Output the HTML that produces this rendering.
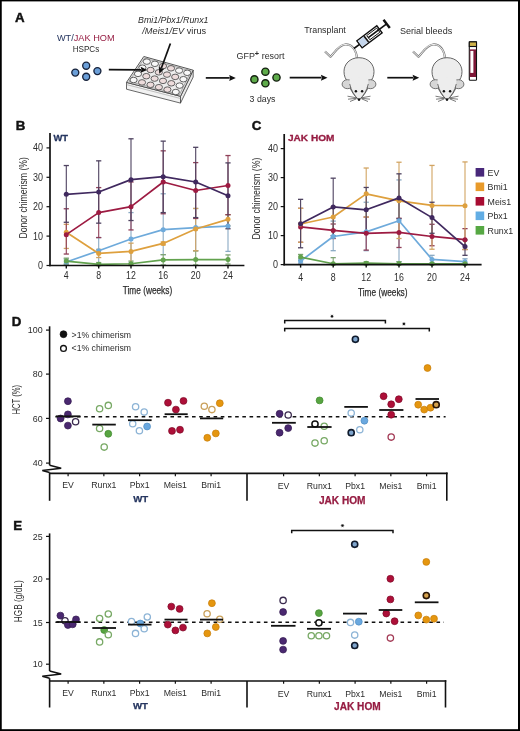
<!DOCTYPE html>
<html><head><meta charset="utf-8"><title>Figure</title>
<style>
html,body{margin:0;padding:0;background:#fff;}
body{width:520px;height:731px;overflow:hidden;}
svg{display:block;font-family:"Liberation Sans", sans-serif;will-change:transform;}
</style></head><body>
<svg width="520" height="731" viewBox="0 0 520 731">
<rect x="0" y="0" width="520" height="731" fill="#fff"/>
<rect x="0" y="0" width="520" height="1.4" fill="#000"/>
<rect x="0" y="0" width="1.75" height="731" fill="#000"/>
<rect x="518.0" y="0" width="2.0" height="731" fill="#000"/>
<rect x="0" y="729.2" width="520" height="1.8" fill="#000"/>
<text x="15.10" y="21.90" font-size="13.3" fill="#111" text-anchor="start" font-weight="bold" font-style="normal" stroke="#111" stroke-width="0.45">A</text>
<text x="15.70" y="130.20" font-size="13.3" fill="#111" text-anchor="start" font-weight="bold" font-style="normal" stroke="#111" stroke-width="0.45">B</text>
<text x="251.70" y="130.20" font-size="13.3" fill="#111" text-anchor="start" font-weight="bold" font-style="normal" stroke="#111" stroke-width="0.45">C</text>
<text x="11.70" y="326.00" font-size="13.3" fill="#111" text-anchor="start" font-weight="bold" font-style="normal" stroke="#111" stroke-width="0.45">D</text>
<text x="13.20" y="529.70" font-size="13.3" fill="#111" text-anchor="start" font-weight="bold" font-style="normal" stroke="#111" stroke-width="0.45">E</text>
<text x="56.9" y="40.8" font-size="9.5" textLength="57.7" lengthAdjust="spacingAndGlyphs"><tspan fill="#25355f">WT/</tspan><tspan fill="#961c42">JAK HOM</tspan></text>
<text x="86.00" y="52.00" font-size="9.5" fill="#2c2c2c" text-anchor="middle" font-weight="normal" font-style="normal" textLength="26.5" lengthAdjust="spacingAndGlyphs" >HSPCs</text>
<circle cx="75.3" cy="72.6" r="3.5" fill="#6b9fd8" stroke="#17223a" stroke-width="1.35"/>
<circle cx="86.2" cy="65.7" r="3.5" fill="#6b9fd8" stroke="#17223a" stroke-width="1.35"/>
<circle cx="97.4" cy="71.1" r="3.5" fill="#6b9fd8" stroke="#17223a" stroke-width="1.35"/>
<circle cx="86.2" cy="76.7" r="3.5" fill="#6b9fd8" stroke="#17223a" stroke-width="1.35"/>
<text x="138.1" y="23.2" font-size="9" fill="#2c2c2c" font-style="italic" textLength="70.4" lengthAdjust="spacingAndGlyphs">Bmi1/Pbx1/Runx1</text>
<text x="142.3" y="33.6" font-size="9" fill="#2c2c2c" textLength="63.9" lengthAdjust="spacingAndGlyphs"><tspan font-style="italic">/Meis1/EV</tspan> virus</text>
<polygon points="126.5,82.4 180.5,96.3 180.5,103.1 126.5,89.2" fill="#f2f2f2" stroke="#444" stroke-width="0.8" stroke-linejoin="round"/>
<polygon points="193.2,70.2 180.5,96.3 180.5,103.1 193.2,77.0" fill="#e8e8e8" stroke="#444" stroke-width="0.8" stroke-linejoin="round"/>
<polygon points="143.8,56.5 193.2,70.2 180.5,96.3 126.5,82.4" fill="#ececec" stroke="#444" stroke-width="0.9" stroke-linejoin="round"/>
<line x1="126.5" y1="84.6" x2="180.5" y2="98.5" stroke="#888" stroke-width="0.5"/>
<polygon points="144.4,58.2 191.1,71.1 179.5,94.6 129.0,81.5" fill="none" stroke="#777" stroke-width="0.6"/>
<ellipse cx="146.8" cy="61.6" rx="3.6" ry="2.75" fill="#f8f8f8" stroke="#4a4a4a" stroke-width="0.85"/>
<ellipse cx="154.9" cy="63.8" rx="3.6" ry="2.75" fill="#f8f8f8" stroke="#4a4a4a" stroke-width="0.85"/>
<ellipse cx="163.0" cy="66.1" rx="3.6" ry="2.75" fill="#eddcdc" stroke="#4a4a4a" stroke-width="0.85"/>
<ellipse cx="171.0" cy="68.3" rx="3.6" ry="2.75" fill="#eddcdc" stroke="#4a4a4a" stroke-width="0.85"/>
<ellipse cx="179.1" cy="70.6" rx="3.6" ry="2.75" fill="#f8f8f8" stroke="#4a4a4a" stroke-width="0.85"/>
<ellipse cx="187.2" cy="72.8" rx="3.6" ry="2.75" fill="#f8f8f8" stroke="#4a4a4a" stroke-width="0.85"/>
<ellipse cx="142.4" cy="67.7" rx="3.6" ry="2.75" fill="#f8f8f8" stroke="#4a4a4a" stroke-width="0.85"/>
<ellipse cx="150.6" cy="70.0" rx="3.6" ry="2.75" fill="#eddcdc" stroke="#4a4a4a" stroke-width="0.85"/>
<ellipse cx="158.8" cy="72.3" rx="3.6" ry="2.75" fill="#eddcdc" stroke="#4a4a4a" stroke-width="0.85"/>
<ellipse cx="167.0" cy="74.6" rx="3.6" ry="2.75" fill="#eddcdc" stroke="#4a4a4a" stroke-width="0.85"/>
<ellipse cx="175.2" cy="76.9" rx="3.6" ry="2.75" fill="#eddcdc" stroke="#4a4a4a" stroke-width="0.85"/>
<ellipse cx="183.4" cy="79.2" rx="3.6" ry="2.75" fill="#f8f8f8" stroke="#4a4a4a" stroke-width="0.85"/>
<ellipse cx="138.0" cy="73.9" rx="3.6" ry="2.75" fill="#f8f8f8" stroke="#4a4a4a" stroke-width="0.85"/>
<ellipse cx="146.3" cy="76.2" rx="3.6" ry="2.75" fill="#eddcdc" stroke="#4a4a4a" stroke-width="0.85"/>
<ellipse cx="154.6" cy="78.6" rx="3.6" ry="2.75" fill="#eddcdc" stroke="#4a4a4a" stroke-width="0.85"/>
<ellipse cx="163.0" cy="80.9" rx="3.6" ry="2.75" fill="#eddcdc" stroke="#4a4a4a" stroke-width="0.85"/>
<ellipse cx="171.3" cy="83.3" rx="3.6" ry="2.75" fill="#eddcdc" stroke="#4a4a4a" stroke-width="0.85"/>
<ellipse cx="179.6" cy="85.6" rx="3.6" ry="2.75" fill="#f8f8f8" stroke="#4a4a4a" stroke-width="0.85"/>
<ellipse cx="133.6" cy="80.0" rx="3.6" ry="2.75" fill="#f8f8f8" stroke="#4a4a4a" stroke-width="0.85"/>
<ellipse cx="142.0" cy="82.4" rx="3.6" ry="2.75" fill="#eddcdc" stroke="#4a4a4a" stroke-width="0.85"/>
<ellipse cx="150.5" cy="84.8" rx="3.6" ry="2.75" fill="#eddcdc" stroke="#4a4a4a" stroke-width="0.85"/>
<ellipse cx="158.9" cy="87.2" rx="3.6" ry="2.75" fill="#eddcdc" stroke="#4a4a4a" stroke-width="0.85"/>
<ellipse cx="167.4" cy="89.6" rx="3.6" ry="2.75" fill="#eddcdc" stroke="#4a4a4a" stroke-width="0.85"/>
<ellipse cx="175.8" cy="92.0" rx="3.6" ry="2.75" fill="#f8f8f8" stroke="#4a4a4a" stroke-width="0.85"/>
<line x1="108.80" y1="69.60" x2="141.10" y2="69.85" stroke="#111" stroke-width="1.7" />
<polygon points="147.20,69.90 140.58,72.85 141.50,69.86 140.62,66.85" fill="#111"/>
<line x1="170.40" y1="43.50" x2="161.40" y2="68.07" stroke="#111" stroke-width="1.7" />
<polygon points="159.30,73.80 158.75,66.57 161.26,68.45 164.39,68.63" fill="#111"/>
<line x1="205.80" y1="77.90" x2="229.70" y2="77.90" stroke="#111" stroke-width="1.7" />
<polygon points="235.80,77.90 229.20,80.90 230.10,77.90 229.20,74.90" fill="#111"/>
<text x="236.5" y="58.7" font-size="9" fill="#2c2c2c" textLength="48" lengthAdjust="spacingAndGlyphs">GFP<tspan font-size="7.5" font-weight="bold" dy="-2.8">+</tspan><tspan dy="2.8"> resort</tspan></text>
<circle cx="254.4" cy="79.4" r="3.6" fill="#5eab4a" stroke="#142010" stroke-width="1.4"/>
<circle cx="265.4" cy="71.7" r="3.6" fill="#5eab4a" stroke="#142010" stroke-width="1.4"/>
<circle cx="276.5" cy="77.5" r="3.6" fill="#5eab4a" stroke="#142010" stroke-width="1.4"/>
<circle cx="265.4" cy="83.3" r="3.6" fill="#5eab4a" stroke="#142010" stroke-width="1.4"/>
<text x="249.60" y="101.90" font-size="9.2" fill="#2c2c2c" text-anchor="start" font-weight="normal" font-style="normal" textLength="25.8" lengthAdjust="spacingAndGlyphs" >3 days</text>
<line x1="289.70" y1="77.70" x2="321.40" y2="77.70" stroke="#111" stroke-width="1.7" />
<polygon points="327.50,77.70 320.90,80.70 321.80,77.70 320.90,74.70" fill="#111"/>
<text x="304.20" y="32.80" font-size="9" fill="#2c2c2c" text-anchor="start" font-weight="normal" font-style="normal" textLength="41.6" lengthAdjust="spacingAndGlyphs" >Transplant</text>
<line x1="387.30" y1="77.70" x2="413.10" y2="77.70" stroke="#111" stroke-width="1.7" />
<polygon points="419.20,77.70 412.60,80.70 413.50,77.70 412.60,74.70" fill="#111"/>
<text x="399.90" y="33.50" font-size="9.4" fill="#2c2c2c" text-anchor="start" font-weight="normal" font-style="normal" textLength="52.3" lengthAdjust="spacingAndGlyphs" >Serial bleeds</text>
<path d="M357,58 C356,50 352,44 345,44.5 C339,45 335,52 330.5,56.8 L325,51.5" fill="none" stroke="#7a7a7a" stroke-width="2.2" stroke-linejoin="round"/>
<path d="M357,58 C356,50 352,44 345,44.5 C339,45 335,52 330.5,56.8 L325,51.5" fill="none" stroke="#f2f2f2" stroke-width="1.0" stroke-linejoin="round"/>
<path d="M359,57.7 C368.5,57.7 374,64.5 374,71.5 C374,76 372.5,79.5 370,81.5 C369,88 364,96 359,100 C354,96 349,88 348,81.5 C345.5,79.5 344,76 344,71.5 C344,64.5 349.5,57.7 359,57.7 Z" fill="#ededed" stroke="#555" stroke-width="0.9"/>
<ellipse cx="347.5" cy="84.2" rx="5.4" ry="4.5" fill="#d6d6d6" stroke="#555" stroke-width="0.8"/>
<ellipse cx="370.5" cy="84.2" rx="5.4" ry="4.5" fill="#d6d6d6" stroke="#555" stroke-width="0.8"/>
<path d="M349.5,80 C353,77 365,77 368.5,80 C368,88 363.5,96 359,100 C354.5,96 350,88 349.5,80 Z" fill="#ededed"/>
<path d="M349.7,84 C351,90 354.5,96 359,100 C363.5,96 367,90 368.3,84" fill="none" stroke="#555" stroke-width="0.8"/>
<circle cx="355.9" cy="91.3" r="1.25" fill="#111"/>
<circle cx="362.1" cy="91.3" r="1.25" fill="#111"/>
<circle cx="359" cy="99.6" r="1.3" fill="#111"/>
<path d="M356.5,97.8 L347.5,96.2 M356.5,98.3 L348,99.2 M356.5,98.8 L350,101.5" stroke="#333" stroke-width="0.65"/>
<path d="M361.5,97.8 L370.5,96.2 M361.5,98.3 L370,99.2 M361.5,98.8 L368,101.5" stroke="#333" stroke-width="0.65"/>
<path d="M445,58 C444,50 440,44 433,44.5 C427,45 423,52 418.5,56.8 L413,51.5" fill="none" stroke="#7a7a7a" stroke-width="2.2" stroke-linejoin="round"/>
<path d="M445,58 C444,50 440,44 433,44.5 C427,45 423,52 418.5,56.8 L413,51.5" fill="none" stroke="#f2f2f2" stroke-width="1.0" stroke-linejoin="round"/>
<path d="M447,57.7 C456.5,57.7 462,64.5 462,71.5 C462,76 460.5,79.5 458,81.5 C457,88 452,96 447,100 C442,96 437,88 436,81.5 C433.5,79.5 432,76 432,71.5 C432,64.5 437.5,57.7 447,57.7 Z" fill="#ededed" stroke="#555" stroke-width="0.9"/>
<ellipse cx="435.5" cy="84.2" rx="5.4" ry="4.5" fill="#d6d6d6" stroke="#555" stroke-width="0.8"/>
<ellipse cx="458.5" cy="84.2" rx="5.4" ry="4.5" fill="#d6d6d6" stroke="#555" stroke-width="0.8"/>
<path d="M437.5,80 C441,77 453,77 456.5,80 C456,88 451.5,96 447,100 C442.5,96 438,88 437.5,80 Z" fill="#ededed"/>
<path d="M437.7,84 C439,90 442.5,96 447,100 C451.5,96 455,90 456.3,84" fill="none" stroke="#555" stroke-width="0.8"/>
<circle cx="443.9" cy="91.3" r="1.25" fill="#111"/>
<circle cx="450.1" cy="91.3" r="1.25" fill="#111"/>
<circle cx="447" cy="99.6" r="1.3" fill="#111"/>
<path d="M444.5,97.8 L435.5,96.2 M444.5,98.3 L436,99.2 M444.5,98.8 L438,101.5" stroke="#333" stroke-width="0.65"/>
<path d="M449.5,97.8 L458.5,96.2 M449.5,98.3 L458,99.2 M449.5,98.8 L456,101.5" stroke="#333" stroke-width="0.65"/>
<g transform="translate(359.5,44.3) rotate(-37)"><line x1="-7" y1="0" x2="0" y2="0" stroke="#111" stroke-width="1.6"/><rect x="0" y="-4.4" width="25" height="8.8" fill="#fff" stroke="#111" stroke-width="1.4"/><rect x="0.8" y="-3.6" width="7" height="7.2" fill="#c5d6ec"/><rect x="7.8" y="-3.7" width="1.6" height="7.4" fill="#111"/><rect x="11" y="-2.6" width="12.5" height="5.2" fill="#fff" stroke="#111" stroke-width="0.9"/><line x1="11" y1="0" x2="34" y2="0" stroke="#111" stroke-width="1.7"/><line x1="34" y1="-5.2" x2="34" y2="5.2" stroke="#111" stroke-width="2.4"/></g>
<rect x="469.3" y="41.9" width="7.2" height="38.3" rx="0.8" fill="#fff" stroke="#111" stroke-width="1.1"/>
<rect x="469.8" y="49.4" width="6.2" height="27.6" fill="#7d1636"/>
<rect x="470.4" y="50.9" width="3.0" height="22.0" fill="#fff"/>
<rect x="469.3" y="41.9" width="7.2" height="4.6" fill="#cfb24a" stroke="#111" stroke-width="1.1"/>
<line x1="66.30" y1="259.03" x2="66.30" y2="264.32" stroke="#8aaac4" stroke-width="1.1" />
<line x1="63.70" y1="259.03" x2="68.90" y2="259.03" stroke="#8aaac4" stroke-width="1.3" />
<line x1="63.70" y1="264.32" x2="68.90" y2="264.32" stroke="#8aaac4" stroke-width="1.3" />
<line x1="98.70" y1="237.57" x2="98.70" y2="264.03" stroke="#8aaac4" stroke-width="1.1" />
<line x1="96.10" y1="237.57" x2="101.30" y2="237.57" stroke="#8aaac4" stroke-width="1.3" />
<line x1="96.10" y1="264.03" x2="101.30" y2="264.03" stroke="#8aaac4" stroke-width="1.3" />
<line x1="131.00" y1="212.58" x2="131.00" y2="263.15" stroke="#8aaac4" stroke-width="1.1" />
<line x1="128.40" y1="212.58" x2="133.60" y2="212.58" stroke="#8aaac4" stroke-width="1.3" />
<line x1="128.40" y1="263.15" x2="133.60" y2="263.15" stroke="#8aaac4" stroke-width="1.3" />
<line x1="163.20" y1="193.76" x2="163.20" y2="254.62" stroke="#8aaac4" stroke-width="1.1" />
<line x1="160.60" y1="193.76" x2="165.80" y2="193.76" stroke="#8aaac4" stroke-width="1.3" />
<line x1="160.60" y1="254.62" x2="165.80" y2="254.62" stroke="#8aaac4" stroke-width="1.3" />
<line x1="195.70" y1="208.46" x2="195.70" y2="250.80" stroke="#8aaac4" stroke-width="1.1" />
<line x1="193.10" y1="208.46" x2="198.30" y2="208.46" stroke="#8aaac4" stroke-width="1.3" />
<line x1="193.10" y1="250.80" x2="198.30" y2="250.80" stroke="#8aaac4" stroke-width="1.3" />
<line x1="228.00" y1="214.64" x2="228.00" y2="251.39" stroke="#8aaac4" stroke-width="1.1" />
<line x1="225.40" y1="214.64" x2="230.60" y2="214.64" stroke="#8aaac4" stroke-width="1.3" />
<line x1="225.40" y1="251.39" x2="230.60" y2="251.39" stroke="#8aaac4" stroke-width="1.3" />
<line x1="66.30" y1="258.15" x2="66.30" y2="264.03" stroke="#7fa474" stroke-width="1.1" />
<line x1="63.70" y1="258.15" x2="68.90" y2="258.15" stroke="#7fa474" stroke-width="1.3" />
<line x1="63.70" y1="264.03" x2="68.90" y2="264.03" stroke="#7fa474" stroke-width="1.3" />
<line x1="98.70" y1="262.56" x2="98.70" y2="265.50" stroke="#7fa474" stroke-width="1.1" />
<line x1="96.10" y1="262.56" x2="101.30" y2="262.56" stroke="#7fa474" stroke-width="1.3" />
<line x1="96.10" y1="265.50" x2="101.30" y2="265.50" stroke="#7fa474" stroke-width="1.3" />
<line x1="131.00" y1="261.09" x2="131.00" y2="265.50" stroke="#7fa474" stroke-width="1.1" />
<line x1="128.40" y1="261.09" x2="133.60" y2="261.09" stroke="#7fa474" stroke-width="1.3" />
<line x1="128.40" y1="265.50" x2="133.60" y2="265.50" stroke="#7fa474" stroke-width="1.3" />
<line x1="163.20" y1="254.62" x2="163.20" y2="264.91" stroke="#7fa474" stroke-width="1.1" />
<line x1="160.60" y1="254.62" x2="165.80" y2="254.62" stroke="#7fa474" stroke-width="1.3" />
<line x1="160.60" y1="264.91" x2="165.80" y2="264.91" stroke="#7fa474" stroke-width="1.3" />
<line x1="195.70" y1="250.80" x2="195.70" y2="264.91" stroke="#7fa474" stroke-width="1.1" />
<line x1="193.10" y1="250.80" x2="198.30" y2="250.80" stroke="#7fa474" stroke-width="1.3" />
<line x1="193.10" y1="264.91" x2="198.30" y2="264.91" stroke="#7fa474" stroke-width="1.3" />
<line x1="228.00" y1="254.92" x2="228.00" y2="264.03" stroke="#7fa474" stroke-width="1.1" />
<line x1="225.40" y1="254.92" x2="230.60" y2="254.92" stroke="#7fa474" stroke-width="1.3" />
<line x1="225.40" y1="264.03" x2="230.60" y2="264.03" stroke="#7fa474" stroke-width="1.3" />
<line x1="66.30" y1="224.34" x2="66.30" y2="248.45" stroke="#d2a462" stroke-width="1.1" />
<line x1="63.70" y1="224.34" x2="68.90" y2="224.34" stroke="#d2a462" stroke-width="1.3" />
<line x1="63.70" y1="248.45" x2="68.90" y2="248.45" stroke="#d2a462" stroke-width="1.3" />
<line x1="98.70" y1="249.33" x2="98.70" y2="257.56" stroke="#d2a462" stroke-width="1.1" />
<line x1="96.10" y1="249.33" x2="101.30" y2="249.33" stroke="#d2a462" stroke-width="1.3" />
<line x1="96.10" y1="257.56" x2="101.30" y2="257.56" stroke="#d2a462" stroke-width="1.3" />
<line x1="131.00" y1="243.16" x2="131.00" y2="264.03" stroke="#d2a462" stroke-width="1.1" />
<line x1="128.40" y1="243.16" x2="133.60" y2="243.16" stroke="#d2a462" stroke-width="1.3" />
<line x1="128.40" y1="264.03" x2="133.60" y2="264.03" stroke="#d2a462" stroke-width="1.3" />
<line x1="163.20" y1="241.98" x2="163.20" y2="244.92" stroke="#d2a462" stroke-width="1.1" />
<line x1="160.60" y1="241.98" x2="165.80" y2="241.98" stroke="#d2a462" stroke-width="1.3" />
<line x1="160.60" y1="244.92" x2="165.80" y2="244.92" stroke="#d2a462" stroke-width="1.3" />
<line x1="195.70" y1="208.46" x2="195.70" y2="250.80" stroke="#d2a462" stroke-width="1.1" />
<line x1="193.10" y1="208.46" x2="198.30" y2="208.46" stroke="#d2a462" stroke-width="1.3" />
<line x1="193.10" y1="250.80" x2="198.30" y2="250.80" stroke="#d2a462" stroke-width="1.3" />
<line x1="228.00" y1="214.64" x2="228.00" y2="225.81" stroke="#d2a462" stroke-width="1.1" />
<line x1="225.40" y1="214.64" x2="230.60" y2="214.64" stroke="#d2a462" stroke-width="1.3" />
<line x1="225.40" y1="225.81" x2="230.60" y2="225.81" stroke="#d2a462" stroke-width="1.3" />
<line x1="66.30" y1="208.76" x2="66.30" y2="254.03" stroke="#8f3f58" stroke-width="1.1" />
<line x1="63.70" y1="208.76" x2="68.90" y2="208.76" stroke="#8f3f58" stroke-width="1.3" />
<line x1="63.70" y1="254.03" x2="68.90" y2="254.03" stroke="#8f3f58" stroke-width="1.3" />
<line x1="98.70" y1="187.59" x2="98.70" y2="237.57" stroke="#8f3f58" stroke-width="1.1" />
<line x1="96.10" y1="187.59" x2="101.30" y2="187.59" stroke="#8f3f58" stroke-width="1.3" />
<line x1="96.10" y1="237.57" x2="101.30" y2="237.57" stroke="#8f3f58" stroke-width="1.3" />
<line x1="131.00" y1="182.00" x2="131.00" y2="229.93" stroke="#8f3f58" stroke-width="1.1" />
<line x1="128.40" y1="182.00" x2="133.60" y2="182.00" stroke="#8f3f58" stroke-width="1.3" />
<line x1="128.40" y1="229.93" x2="133.60" y2="229.93" stroke="#8f3f58" stroke-width="1.3" />
<line x1="163.20" y1="150.84" x2="163.20" y2="213.76" stroke="#8f3f58" stroke-width="1.1" />
<line x1="160.60" y1="150.84" x2="165.80" y2="150.84" stroke="#8f3f58" stroke-width="1.3" />
<line x1="160.60" y1="213.76" x2="165.80" y2="213.76" stroke="#8f3f58" stroke-width="1.3" />
<line x1="195.70" y1="162.60" x2="195.70" y2="218.46" stroke="#8f3f58" stroke-width="1.1" />
<line x1="193.10" y1="162.60" x2="198.30" y2="162.60" stroke="#8f3f58" stroke-width="1.3" />
<line x1="193.10" y1="218.46" x2="198.30" y2="218.46" stroke="#8f3f58" stroke-width="1.3" />
<line x1="228.00" y1="155.54" x2="228.00" y2="214.64" stroke="#8f3f58" stroke-width="1.1" />
<line x1="225.40" y1="155.54" x2="230.60" y2="155.54" stroke="#8f3f58" stroke-width="1.3" />
<line x1="225.40" y1="214.64" x2="230.60" y2="214.64" stroke="#8f3f58" stroke-width="1.3" />
<line x1="66.30" y1="165.54" x2="66.30" y2="222.28" stroke="#4e4260" stroke-width="1.1" />
<line x1="63.70" y1="165.54" x2="68.90" y2="165.54" stroke="#4e4260" stroke-width="1.3" />
<line x1="63.70" y1="222.28" x2="68.90" y2="222.28" stroke="#4e4260" stroke-width="1.3" />
<line x1="98.70" y1="160.84" x2="98.70" y2="223.16" stroke="#4e4260" stroke-width="1.1" />
<line x1="96.10" y1="160.84" x2="101.30" y2="160.84" stroke="#4e4260" stroke-width="1.3" />
<line x1="96.10" y1="223.16" x2="101.30" y2="223.16" stroke="#4e4260" stroke-width="1.3" />
<line x1="131.00" y1="138.79" x2="131.00" y2="220.52" stroke="#4e4260" stroke-width="1.1" />
<line x1="128.40" y1="138.79" x2="133.60" y2="138.79" stroke="#4e4260" stroke-width="1.3" />
<line x1="128.40" y1="220.52" x2="133.60" y2="220.52" stroke="#4e4260" stroke-width="1.3" />
<line x1="163.20" y1="141.14" x2="163.20" y2="212.58" stroke="#4e4260" stroke-width="1.1" />
<line x1="160.60" y1="141.14" x2="165.80" y2="141.14" stroke="#4e4260" stroke-width="1.3" />
<line x1="160.60" y1="212.58" x2="165.80" y2="212.58" stroke="#4e4260" stroke-width="1.3" />
<line x1="195.70" y1="147.31" x2="195.70" y2="217.58" stroke="#4e4260" stroke-width="1.1" />
<line x1="193.10" y1="147.31" x2="198.30" y2="147.31" stroke="#4e4260" stroke-width="1.3" />
<line x1="193.10" y1="217.58" x2="198.30" y2="217.58" stroke="#4e4260" stroke-width="1.3" />
<line x1="228.00" y1="162.89" x2="228.00" y2="228.75" stroke="#4e4260" stroke-width="1.1" />
<line x1="225.40" y1="162.89" x2="230.60" y2="162.89" stroke="#4e4260" stroke-width="1.3" />
<line x1="225.40" y1="228.75" x2="230.60" y2="228.75" stroke="#4e4260" stroke-width="1.3" />
<polyline points="66.30,261.97 98.70,250.80 131.00,239.04 163.20,229.63 195.70,227.57 228.00,226.10" fill="none" stroke="#6eaadb" stroke-width="1.7" stroke-linejoin="round"/>
<circle cx="66.30" cy="261.97" r="2.5" fill="#6eaadb"/>
<circle cx="98.70" cy="250.80" r="2.5" fill="#6eaadb"/>
<circle cx="131.00" cy="239.04" r="2.5" fill="#6eaadb"/>
<circle cx="163.20" cy="229.63" r="2.5" fill="#6eaadb"/>
<circle cx="195.70" cy="227.57" r="2.5" fill="#6eaadb"/>
<circle cx="228.00" cy="226.10" r="2.5" fill="#6eaadb"/>
<polyline points="66.30,261.09 98.70,264.32 131.00,263.74 163.20,259.91 195.70,259.62 228.00,259.62" fill="none" stroke="#62a24e" stroke-width="1.7" stroke-linejoin="round"/>
<circle cx="66.30" cy="261.09" r="2.5" fill="#62a24e"/>
<circle cx="98.70" cy="264.32" r="2.5" fill="#62a24e"/>
<circle cx="131.00" cy="263.74" r="2.5" fill="#62a24e"/>
<circle cx="163.20" cy="259.91" r="2.5" fill="#62a24e"/>
<circle cx="195.70" cy="259.62" r="2.5" fill="#62a24e"/>
<circle cx="228.00" cy="259.62" r="2.5" fill="#62a24e"/>
<polyline points="66.30,232.28 98.70,253.45 131.00,251.39 163.20,243.45 195.70,229.04 228.00,219.34" fill="none" stroke="#dea03e" stroke-width="1.7" stroke-linejoin="round"/>
<circle cx="66.30" cy="232.28" r="2.5" fill="#dea03e"/>
<circle cx="98.70" cy="253.45" r="2.5" fill="#dea03e"/>
<circle cx="131.00" cy="251.39" r="2.5" fill="#dea03e"/>
<circle cx="163.20" cy="243.45" r="2.5" fill="#dea03e"/>
<circle cx="195.70" cy="229.04" r="2.5" fill="#dea03e"/>
<circle cx="228.00" cy="219.34" r="2.5" fill="#dea03e"/>
<polyline points="66.30,234.63 98.70,212.58 131.00,206.70 163.20,182.00 195.70,190.53 228.00,185.53" fill="none" stroke="#9d1b42" stroke-width="1.7" stroke-linejoin="round"/>
<circle cx="66.30" cy="234.63" r="2.5" fill="#9d1b42"/>
<circle cx="98.70" cy="212.58" r="2.5" fill="#9d1b42"/>
<circle cx="131.00" cy="206.70" r="2.5" fill="#9d1b42"/>
<circle cx="163.20" cy="182.00" r="2.5" fill="#9d1b42"/>
<circle cx="195.70" cy="190.53" r="2.5" fill="#9d1b42"/>
<circle cx="228.00" cy="185.53" r="2.5" fill="#9d1b42"/>
<polyline points="66.30,194.35 98.70,192.00 131.00,179.65 163.20,176.71 195.70,182.00 228.00,195.82" fill="none" stroke="#40295f" stroke-width="1.7" stroke-linejoin="round"/>
<circle cx="66.30" cy="194.35" r="2.5" fill="#40295f"/>
<circle cx="98.70" cy="192.00" r="2.5" fill="#40295f"/>
<circle cx="131.00" cy="179.65" r="2.5" fill="#40295f"/>
<circle cx="163.20" cy="176.71" r="2.5" fill="#40295f"/>
<circle cx="195.70" cy="182.00" r="2.5" fill="#40295f"/>
<circle cx="228.00" cy="195.82" r="2.5" fill="#40295f"/>
<line x1="50.00" y1="133.00" x2="50.00" y2="266.30" stroke="#111" stroke-width="1.7" />
<line x1="49.20" y1="265.50" x2="244.40" y2="265.50" stroke="#111" stroke-width="1.7" />
<line x1="46.50" y1="265.50" x2="50.00" y2="265.50" stroke="#111" stroke-width="1.2" />
<text x="43.00" y="269.10" font-size="10.2" fill="#2c2c2c" text-anchor="end" font-weight="normal" font-style="normal" transform="translate(43.00,0) scale(0.88,1) translate(-43.00,0)">0</text>
<line x1="46.50" y1="236.10" x2="50.00" y2="236.10" stroke="#111" stroke-width="1.2" />
<text x="43.00" y="239.70" font-size="10.2" fill="#2c2c2c" text-anchor="end" font-weight="normal" font-style="normal" transform="translate(43.00,0) scale(0.88,1) translate(-43.00,0)">10</text>
<line x1="46.50" y1="206.70" x2="50.00" y2="206.70" stroke="#111" stroke-width="1.2" />
<text x="43.00" y="210.30" font-size="10.2" fill="#2c2c2c" text-anchor="end" font-weight="normal" font-style="normal" transform="translate(43.00,0) scale(0.88,1) translate(-43.00,0)">20</text>
<line x1="46.50" y1="177.30" x2="50.00" y2="177.30" stroke="#111" stroke-width="1.2" />
<text x="43.00" y="180.90" font-size="10.2" fill="#2c2c2c" text-anchor="end" font-weight="normal" font-style="normal" transform="translate(43.00,0) scale(0.88,1) translate(-43.00,0)">30</text>
<line x1="46.50" y1="147.90" x2="50.00" y2="147.90" stroke="#111" stroke-width="1.2" />
<text x="43.00" y="151.50" font-size="10.2" fill="#2c2c2c" text-anchor="end" font-weight="normal" font-style="normal" transform="translate(43.00,0) scale(0.88,1) translate(-43.00,0)">40</text>
<line x1="66.30" y1="265.50" x2="66.30" y2="268.50" stroke="#111" stroke-width="1.4" />
<text x="66.30" y="279.00" font-size="10.0" fill="#2c2c2c" text-anchor="middle" transform="translate(66.30,0) scale(0.88,1) translate(-66.30,0)">4</text>
<line x1="98.70" y1="265.50" x2="98.70" y2="268.50" stroke="#111" stroke-width="1.4" />
<text x="98.70" y="279.00" font-size="10.0" fill="#2c2c2c" text-anchor="middle" transform="translate(98.70,0) scale(0.88,1) translate(-98.70,0)">8</text>
<line x1="131.00" y1="265.50" x2="131.00" y2="268.50" stroke="#111" stroke-width="1.4" />
<text x="131.00" y="279.00" font-size="10.0" fill="#2c2c2c" text-anchor="middle" transform="translate(131.00,0) scale(0.88,1) translate(-131.00,0)">12</text>
<line x1="163.20" y1="265.50" x2="163.20" y2="268.50" stroke="#111" stroke-width="1.4" />
<text x="163.20" y="279.00" font-size="10.0" fill="#2c2c2c" text-anchor="middle" transform="translate(163.20,0) scale(0.88,1) translate(-163.20,0)">16</text>
<line x1="195.70" y1="265.50" x2="195.70" y2="268.50" stroke="#111" stroke-width="1.4" />
<text x="195.70" y="279.00" font-size="10.0" fill="#2c2c2c" text-anchor="middle" transform="translate(195.70,0) scale(0.88,1) translate(-195.70,0)">20</text>
<line x1="228.00" y1="265.50" x2="228.00" y2="268.50" stroke="#111" stroke-width="1.4" />
<text x="228.00" y="279.00" font-size="10.0" fill="#2c2c2c" text-anchor="middle" transform="translate(228.00,0) scale(0.88,1) translate(-228.00,0)">24</text>
<text x="122.70" y="294.40" font-size="11.0" fill="#2c2c2c" text-anchor="start" font-weight="normal" font-style="normal" textLength="49.5" lengthAdjust="spacingAndGlyphs" stroke="#2c2c2c" stroke-width="0.25">Time (weeks)</text>
<text x="0" y="0" font-size="10.2" fill="#2c2c2c" text-anchor="middle" textLength="81.5" lengthAdjust="spacingAndGlyphs" transform="translate(26.6,197.8) rotate(-90)">Donor chimerism (%)</text>
<text x="53.40" y="141.20" font-size="9.6" fill="#25355f" text-anchor="start" font-weight="bold" font-style="normal" textLength="14.6" lengthAdjust="spacingAndGlyphs" stroke="#25355f" stroke-width="0.3">WT</text>
<line x1="300.60" y1="258.80" x2="300.60" y2="263.15" stroke="#8aaac4" stroke-width="1.1" />
<line x1="298.00" y1="258.80" x2="303.20" y2="258.80" stroke="#8aaac4" stroke-width="1.3" />
<line x1="298.00" y1="263.15" x2="303.20" y2="263.15" stroke="#8aaac4" stroke-width="1.3" />
<line x1="333.20" y1="221.10" x2="333.20" y2="250.68" stroke="#8aaac4" stroke-width="1.1" />
<line x1="330.60" y1="221.10" x2="335.80" y2="221.10" stroke="#8aaac4" stroke-width="1.3" />
<line x1="330.60" y1="250.68" x2="335.80" y2="250.68" stroke="#8aaac4" stroke-width="1.3" />
<line x1="366.20" y1="202.25" x2="366.20" y2="250.68" stroke="#8aaac4" stroke-width="1.1" />
<line x1="363.60" y1="202.25" x2="368.80" y2="202.25" stroke="#8aaac4" stroke-width="1.3" />
<line x1="363.60" y1="250.68" x2="368.80" y2="250.68" stroke="#8aaac4" stroke-width="1.3" />
<line x1="399.00" y1="179.92" x2="399.00" y2="261.70" stroke="#8aaac4" stroke-width="1.1" />
<line x1="396.40" y1="179.92" x2="401.60" y2="179.92" stroke="#8aaac4" stroke-width="1.3" />
<line x1="396.40" y1="261.70" x2="401.60" y2="261.70" stroke="#8aaac4" stroke-width="1.3" />
<line x1="432.00" y1="255.32" x2="432.00" y2="263.15" stroke="#8aaac4" stroke-width="1.1" />
<line x1="429.40" y1="255.32" x2="434.60" y2="255.32" stroke="#8aaac4" stroke-width="1.3" />
<line x1="429.40" y1="263.15" x2="434.60" y2="263.15" stroke="#8aaac4" stroke-width="1.3" />
<line x1="465.00" y1="258.80" x2="465.00" y2="263.73" stroke="#8aaac4" stroke-width="1.1" />
<line x1="462.40" y1="258.80" x2="467.60" y2="258.80" stroke="#8aaac4" stroke-width="1.3" />
<line x1="462.40" y1="263.73" x2="467.60" y2="263.73" stroke="#8aaac4" stroke-width="1.3" />
<line x1="300.60" y1="254.45" x2="300.60" y2="260.25" stroke="#7fa474" stroke-width="1.1" />
<line x1="298.00" y1="254.45" x2="303.20" y2="254.45" stroke="#7fa474" stroke-width="1.3" />
<line x1="298.00" y1="260.25" x2="303.20" y2="260.25" stroke="#7fa474" stroke-width="1.3" />
<line x1="333.20" y1="257.64" x2="333.20" y2="264.60" stroke="#7fa474" stroke-width="1.1" />
<line x1="330.60" y1="257.64" x2="335.80" y2="257.64" stroke="#7fa474" stroke-width="1.3" />
<line x1="330.60" y1="264.60" x2="335.80" y2="264.60" stroke="#7fa474" stroke-width="1.3" />
<line x1="366.20" y1="261.70" x2="366.20" y2="264.60" stroke="#7fa474" stroke-width="1.1" />
<line x1="363.60" y1="261.70" x2="368.80" y2="261.70" stroke="#7fa474" stroke-width="1.3" />
<line x1="363.60" y1="264.60" x2="368.80" y2="264.60" stroke="#7fa474" stroke-width="1.3" />
<line x1="399.00" y1="261.70" x2="399.00" y2="264.60" stroke="#7fa474" stroke-width="1.1" />
<line x1="396.40" y1="261.70" x2="401.60" y2="261.70" stroke="#7fa474" stroke-width="1.3" />
<line x1="396.40" y1="264.60" x2="401.60" y2="264.60" stroke="#7fa474" stroke-width="1.3" />
<line x1="432.00" y1="263.15" x2="432.00" y2="264.60" stroke="#7fa474" stroke-width="1.1" />
<line x1="429.40" y1="263.15" x2="434.60" y2="263.15" stroke="#7fa474" stroke-width="1.3" />
<line x1="429.40" y1="264.60" x2="434.60" y2="264.60" stroke="#7fa474" stroke-width="1.3" />
<line x1="465.00" y1="263.15" x2="465.00" y2="264.60" stroke="#7fa474" stroke-width="1.1" />
<line x1="462.40" y1="263.15" x2="467.60" y2="263.15" stroke="#7fa474" stroke-width="1.3" />
<line x1="462.40" y1="264.60" x2="467.60" y2="264.60" stroke="#7fa474" stroke-width="1.3" />
<line x1="300.60" y1="208.34" x2="300.60" y2="242.27" stroke="#8f3f58" stroke-width="1.1" />
<line x1="298.00" y1="208.34" x2="303.20" y2="208.34" stroke="#8f3f58" stroke-width="1.3" />
<line x1="298.00" y1="242.27" x2="303.20" y2="242.27" stroke="#8f3f58" stroke-width="1.3" />
<line x1="333.20" y1="224.00" x2="333.20" y2="238.50" stroke="#8f3f58" stroke-width="1.1" />
<line x1="330.60" y1="224.00" x2="335.80" y2="224.00" stroke="#8f3f58" stroke-width="1.3" />
<line x1="330.60" y1="238.50" x2="335.80" y2="238.50" stroke="#8f3f58" stroke-width="1.3" />
<line x1="366.20" y1="217.04" x2="366.20" y2="250.10" stroke="#8f3f58" stroke-width="1.1" />
<line x1="363.60" y1="217.04" x2="368.80" y2="217.04" stroke="#8f3f58" stroke-width="1.3" />
<line x1="363.60" y1="250.10" x2="368.80" y2="250.10" stroke="#8f3f58" stroke-width="1.3" />
<line x1="399.00" y1="218.20" x2="399.00" y2="247.49" stroke="#8f3f58" stroke-width="1.1" />
<line x1="396.40" y1="218.20" x2="401.60" y2="218.20" stroke="#8f3f58" stroke-width="1.3" />
<line x1="396.40" y1="247.49" x2="401.60" y2="247.49" stroke="#8f3f58" stroke-width="1.3" />
<line x1="432.00" y1="224.29" x2="432.00" y2="245.75" stroke="#8f3f58" stroke-width="1.1" />
<line x1="429.40" y1="224.29" x2="434.60" y2="224.29" stroke="#8f3f58" stroke-width="1.3" />
<line x1="429.40" y1="245.75" x2="434.60" y2="245.75" stroke="#8f3f58" stroke-width="1.3" />
<line x1="465.00" y1="228.64" x2="465.00" y2="249.52" stroke="#8f3f58" stroke-width="1.1" />
<line x1="462.40" y1="228.64" x2="467.60" y2="228.64" stroke="#8f3f58" stroke-width="1.3" />
<line x1="462.40" y1="249.52" x2="467.60" y2="249.52" stroke="#8f3f58" stroke-width="1.3" />
<line x1="300.60" y1="208.34" x2="300.60" y2="242.27" stroke="#d2a462" stroke-width="1.1" />
<line x1="298.00" y1="208.34" x2="303.20" y2="208.34" stroke="#d2a462" stroke-width="1.3" />
<line x1="298.00" y1="242.27" x2="303.20" y2="242.27" stroke="#d2a462" stroke-width="1.3" />
<line x1="333.20" y1="206.60" x2="333.20" y2="229.80" stroke="#d2a462" stroke-width="1.1" />
<line x1="330.60" y1="206.60" x2="335.80" y2="206.60" stroke="#d2a462" stroke-width="1.3" />
<line x1="330.60" y1="229.80" x2="335.80" y2="229.80" stroke="#d2a462" stroke-width="1.3" />
<line x1="366.20" y1="168.03" x2="366.20" y2="217.04" stroke="#d2a462" stroke-width="1.1" />
<line x1="363.60" y1="168.03" x2="368.80" y2="168.03" stroke="#d2a462" stroke-width="1.3" />
<line x1="363.60" y1="217.04" x2="368.80" y2="217.04" stroke="#d2a462" stroke-width="1.3" />
<line x1="399.00" y1="162.23" x2="399.00" y2="238.50" stroke="#d2a462" stroke-width="1.1" />
<line x1="396.40" y1="162.23" x2="401.60" y2="162.23" stroke="#d2a462" stroke-width="1.3" />
<line x1="396.40" y1="238.50" x2="401.60" y2="238.50" stroke="#d2a462" stroke-width="1.3" />
<line x1="432.00" y1="165.42" x2="432.00" y2="249.23" stroke="#d2a462" stroke-width="1.1" />
<line x1="429.40" y1="165.42" x2="434.60" y2="165.42" stroke="#d2a462" stroke-width="1.3" />
<line x1="429.40" y1="249.23" x2="434.60" y2="249.23" stroke="#d2a462" stroke-width="1.3" />
<line x1="465.00" y1="161.94" x2="465.00" y2="249.52" stroke="#d2a462" stroke-width="1.1" />
<line x1="462.40" y1="161.94" x2="467.60" y2="161.94" stroke="#d2a462" stroke-width="1.3" />
<line x1="462.40" y1="249.52" x2="467.60" y2="249.52" stroke="#d2a462" stroke-width="1.3" />
<line x1="300.60" y1="199.35" x2="300.60" y2="247.78" stroke="#4e4260" stroke-width="1.1" />
<line x1="298.00" y1="199.35" x2="303.20" y2="199.35" stroke="#4e4260" stroke-width="1.3" />
<line x1="298.00" y1="247.78" x2="303.20" y2="247.78" stroke="#4e4260" stroke-width="1.3" />
<line x1="333.20" y1="178.18" x2="333.20" y2="235.60" stroke="#4e4260" stroke-width="1.1" />
<line x1="330.60" y1="178.18" x2="335.80" y2="178.18" stroke="#4e4260" stroke-width="1.3" />
<line x1="330.60" y1="235.60" x2="335.80" y2="235.60" stroke="#4e4260" stroke-width="1.3" />
<line x1="366.20" y1="187.46" x2="366.20" y2="232.70" stroke="#4e4260" stroke-width="1.1" />
<line x1="363.60" y1="187.46" x2="368.80" y2="187.46" stroke="#4e4260" stroke-width="1.3" />
<line x1="363.60" y1="232.70" x2="368.80" y2="232.70" stroke="#4e4260" stroke-width="1.3" />
<line x1="399.00" y1="173.83" x2="399.00" y2="218.78" stroke="#4e4260" stroke-width="1.1" />
<line x1="396.40" y1="173.83" x2="401.60" y2="173.83" stroke="#4e4260" stroke-width="1.3" />
<line x1="396.40" y1="218.78" x2="401.60" y2="218.78" stroke="#4e4260" stroke-width="1.3" />
<line x1="432.00" y1="202.25" x2="432.00" y2="233.28" stroke="#4e4260" stroke-width="1.1" />
<line x1="429.40" y1="202.25" x2="434.60" y2="202.25" stroke="#4e4260" stroke-width="1.3" />
<line x1="429.40" y1="233.28" x2="434.60" y2="233.28" stroke="#4e4260" stroke-width="1.3" />
<line x1="465.00" y1="239.95" x2="465.00" y2="255.32" stroke="#4e4260" stroke-width="1.1" />
<line x1="462.40" y1="239.95" x2="467.60" y2="239.95" stroke="#4e4260" stroke-width="1.3" />
<line x1="462.40" y1="255.32" x2="467.60" y2="255.32" stroke="#4e4260" stroke-width="1.3" />
<polyline points="300.60,261.12 333.20,236.47 366.20,231.83 399.00,220.81 432.00,259.38 465.00,261.70" fill="none" stroke="#6eaadb" stroke-width="1.7" stroke-linejoin="round"/>
<circle cx="300.60" cy="261.12" r="2.5" fill="#6eaadb"/>
<circle cx="333.20" cy="236.47" r="2.5" fill="#6eaadb"/>
<circle cx="366.20" cy="231.83" r="2.5" fill="#6eaadb"/>
<circle cx="399.00" cy="220.81" r="2.5" fill="#6eaadb"/>
<circle cx="432.00" cy="259.38" r="2.5" fill="#6eaadb"/>
<circle cx="465.00" cy="261.70" r="2.5" fill="#6eaadb"/>
<polyline points="300.60,257.06 333.20,263.73 366.20,263.15 399.00,263.73 432.00,263.73 465.00,263.73" fill="none" stroke="#62a24e" stroke-width="1.7" stroke-linejoin="round"/>
<circle cx="300.60" cy="257.06" r="2.5" fill="#62a24e"/>
<circle cx="333.20" cy="263.73" r="2.5" fill="#62a24e"/>
<circle cx="366.20" cy="263.15" r="2.5" fill="#62a24e"/>
<circle cx="399.00" cy="263.73" r="2.5" fill="#62a24e"/>
<circle cx="432.00" cy="263.73" r="2.5" fill="#62a24e"/>
<circle cx="465.00" cy="263.73" r="2.5" fill="#62a24e"/>
<polyline points="300.60,226.90 333.20,230.38 366.20,233.28 399.00,232.41 432.00,236.47 465.00,239.66" fill="none" stroke="#9d1b42" stroke-width="1.7" stroke-linejoin="round"/>
<circle cx="300.60" cy="226.90" r="2.5" fill="#9d1b42"/>
<circle cx="333.20" cy="230.38" r="2.5" fill="#9d1b42"/>
<circle cx="366.20" cy="233.28" r="2.5" fill="#9d1b42"/>
<circle cx="399.00" cy="232.41" r="2.5" fill="#9d1b42"/>
<circle cx="432.00" cy="236.47" r="2.5" fill="#9d1b42"/>
<circle cx="465.00" cy="239.66" r="2.5" fill="#9d1b42"/>
<polyline points="300.60,224.00 333.20,217.04 366.20,193.84 399.00,200.80 432.00,205.44 465.00,205.73" fill="none" stroke="#dea03e" stroke-width="1.7" stroke-linejoin="round"/>
<circle cx="300.60" cy="224.00" r="2.5" fill="#dea03e"/>
<circle cx="333.20" cy="217.04" r="2.5" fill="#dea03e"/>
<circle cx="366.20" cy="193.84" r="2.5" fill="#dea03e"/>
<circle cx="399.00" cy="200.80" r="2.5" fill="#dea03e"/>
<circle cx="432.00" cy="205.44" r="2.5" fill="#dea03e"/>
<circle cx="465.00" cy="205.73" r="2.5" fill="#dea03e"/>
<polyline points="300.60,223.71 333.20,206.89 366.20,209.79 399.00,197.90 432.00,217.62 465.00,246.62" fill="none" stroke="#40295f" stroke-width="1.7" stroke-linejoin="round"/>
<circle cx="300.60" cy="223.71" r="2.5" fill="#40295f"/>
<circle cx="333.20" cy="206.89" r="2.5" fill="#40295f"/>
<circle cx="366.20" cy="209.79" r="2.5" fill="#40295f"/>
<circle cx="399.00" cy="197.90" r="2.5" fill="#40295f"/>
<circle cx="432.00" cy="217.62" r="2.5" fill="#40295f"/>
<circle cx="465.00" cy="246.62" r="2.5" fill="#40295f"/>
<line x1="284.20" y1="134.00" x2="284.20" y2="265.40" stroke="#111" stroke-width="1.7" />
<line x1="283.40" y1="264.60" x2="481.60" y2="264.60" stroke="#111" stroke-width="1.7" />
<line x1="280.70" y1="264.60" x2="284.20" y2="264.60" stroke="#111" stroke-width="1.2" />
<text x="278.00" y="268.20" font-size="10.2" fill="#2c2c2c" text-anchor="end" font-weight="normal" font-style="normal" transform="translate(278.00,0) scale(0.88,1) translate(-278.00,0)">0</text>
<line x1="280.70" y1="235.60" x2="284.20" y2="235.60" stroke="#111" stroke-width="1.2" />
<text x="278.00" y="239.20" font-size="10.2" fill="#2c2c2c" text-anchor="end" font-weight="normal" font-style="normal" transform="translate(278.00,0) scale(0.88,1) translate(-278.00,0)">10</text>
<line x1="280.70" y1="206.60" x2="284.20" y2="206.60" stroke="#111" stroke-width="1.2" />
<text x="278.00" y="210.20" font-size="10.2" fill="#2c2c2c" text-anchor="end" font-weight="normal" font-style="normal" transform="translate(278.00,0) scale(0.88,1) translate(-278.00,0)">20</text>
<line x1="280.70" y1="177.60" x2="284.20" y2="177.60" stroke="#111" stroke-width="1.2" />
<text x="278.00" y="181.20" font-size="10.2" fill="#2c2c2c" text-anchor="end" font-weight="normal" font-style="normal" transform="translate(278.00,0) scale(0.88,1) translate(-278.00,0)">30</text>
<line x1="280.70" y1="148.60" x2="284.20" y2="148.60" stroke="#111" stroke-width="1.2" />
<text x="278.00" y="152.20" font-size="10.2" fill="#2c2c2c" text-anchor="end" font-weight="normal" font-style="normal" transform="translate(278.00,0) scale(0.88,1) translate(-278.00,0)">40</text>
<line x1="300.60" y1="264.60" x2="300.60" y2="267.60" stroke="#111" stroke-width="1.4" />
<text x="300.60" y="280.80" font-size="10.0" fill="#2c2c2c" text-anchor="middle" transform="translate(300.60,0) scale(0.88,1) translate(-300.60,0)">4</text>
<line x1="333.20" y1="264.60" x2="333.20" y2="267.60" stroke="#111" stroke-width="1.4" />
<text x="333.20" y="280.80" font-size="10.0" fill="#2c2c2c" text-anchor="middle" transform="translate(333.20,0) scale(0.88,1) translate(-333.20,0)">8</text>
<line x1="366.20" y1="264.60" x2="366.20" y2="267.60" stroke="#111" stroke-width="1.4" />
<text x="366.20" y="280.80" font-size="10.0" fill="#2c2c2c" text-anchor="middle" transform="translate(366.20,0) scale(0.88,1) translate(-366.20,0)">12</text>
<line x1="399.00" y1="264.60" x2="399.00" y2="267.60" stroke="#111" stroke-width="1.4" />
<text x="399.00" y="280.80" font-size="10.0" fill="#2c2c2c" text-anchor="middle" transform="translate(399.00,0) scale(0.88,1) translate(-399.00,0)">16</text>
<line x1="432.00" y1="264.60" x2="432.00" y2="267.60" stroke="#111" stroke-width="1.4" />
<text x="432.00" y="280.80" font-size="10.0" fill="#2c2c2c" text-anchor="middle" transform="translate(432.00,0) scale(0.88,1) translate(-432.00,0)">20</text>
<line x1="465.00" y1="264.60" x2="465.00" y2="267.60" stroke="#111" stroke-width="1.4" />
<text x="465.00" y="280.80" font-size="10.0" fill="#2c2c2c" text-anchor="middle" transform="translate(465.00,0) scale(0.88,1) translate(-465.00,0)">24</text>
<text x="358.00" y="296.10" font-size="11.0" fill="#2c2c2c" text-anchor="start" font-weight="normal" font-style="normal" textLength="49.5" lengthAdjust="spacingAndGlyphs" stroke="#2c2c2c" stroke-width="0.25">Time (weeks)</text>
<text x="0" y="0" font-size="10.2" fill="#2c2c2c" text-anchor="middle" textLength="82.0" lengthAdjust="spacingAndGlyphs" transform="translate(260.4,198.6) rotate(-90)">Donor chimerism (%)</text>
<text x="288.00" y="140.90" font-size="9.4" fill="#961c42" text-anchor="start" font-weight="bold" font-style="normal" textLength="46.4" lengthAdjust="spacingAndGlyphs" stroke="#961c42" stroke-width="0.3">JAK HOM</text>
<rect x="475.6" y="168.00" width="8.6" height="8.6" fill="#48287a"/>
<text x="487.60" y="175.60" font-size="8.8" fill="#2c2c2c" text-anchor="start" font-weight="normal" font-style="normal" >EV</text>
<rect x="475.6" y="182.50" width="8.6" height="8.6" fill="#e89a2a"/>
<text x="487.60" y="190.10" font-size="8.8" fill="#2c2c2c" text-anchor="start" font-weight="normal" font-style="normal" >Bmi1</text>
<rect x="475.6" y="197.00" width="8.6" height="8.6" fill="#a80c32"/>
<text x="487.60" y="204.60" font-size="8.8" fill="#2c2c2c" text-anchor="start" font-weight="normal" font-style="normal" >Meis1</text>
<rect x="475.6" y="211.50" width="8.6" height="8.6" fill="#62ade4"/>
<text x="487.60" y="219.10" font-size="8.8" fill="#2c2c2c" text-anchor="start" font-weight="normal" font-style="normal" >Pbx1</text>
<rect x="475.6" y="226.00" width="8.6" height="8.6" fill="#56a843"/>
<text x="487.60" y="233.60" font-size="8.8" fill="#2c2c2c" text-anchor="start" font-weight="normal" font-style="normal" >Runx1</text>
<line x1="49.60" y1="326.30" x2="49.60" y2="465.30" stroke="#111" stroke-width="1.6" />
<polyline points="49.6,465.3 61.2,468.2 42.3,470.5 49.6,472.5" fill="none" stroke="#111" stroke-width="1.5" stroke-linejoin="miter"/>
<line x1="49.60" y1="472.50" x2="49.60" y2="500.80" stroke="#111" stroke-width="1.6" />
<line x1="49.60" y1="473.40" x2="447.60" y2="473.40" stroke="#111" stroke-width="1.6" />
<line x1="247.00" y1="473.40" x2="247.00" y2="500.80" stroke="#111" stroke-width="1.6" />
<line x1="446.80" y1="472.60" x2="446.80" y2="500.80" stroke="#111" stroke-width="1.6" />
<line x1="46.00" y1="330.10" x2="49.60" y2="330.10" stroke="#111" stroke-width="1.2" />
<text x="42.60" y="333.20" font-size="8.9" fill="#2c2c2c" text-anchor="end" font-weight="normal" font-style="normal" >100</text>
<line x1="46.00" y1="374.10" x2="49.60" y2="374.10" stroke="#111" stroke-width="1.2" />
<text x="42.60" y="377.20" font-size="8.9" fill="#2c2c2c" text-anchor="end" font-weight="normal" font-style="normal" >80</text>
<line x1="46.00" y1="418.40" x2="49.60" y2="418.40" stroke="#111" stroke-width="1.2" />
<text x="42.60" y="421.50" font-size="8.9" fill="#2c2c2c" text-anchor="end" font-weight="normal" font-style="normal" >60</text>
<line x1="46.00" y1="463.10" x2="49.60" y2="463.10" stroke="#111" stroke-width="1.2" />
<text x="42.60" y="466.20" font-size="8.9" fill="#2c2c2c" text-anchor="end" font-weight="normal" font-style="normal" >40</text>
<line x1="55.4" y1="416.8" x2="445.6" y2="416.8" stroke="#111" stroke-width="1.5" stroke-dasharray="3.6,3.59"/>
<line x1="68.10" y1="473.40" x2="68.10" y2="476.20" stroke="#111" stroke-width="1.2" />
<text x="68.10" y="487.80" font-size="8.7" fill="#2c2c2c" text-anchor="middle" font-weight="normal" font-style="normal" >EV</text>
<line x1="283.60" y1="473.40" x2="283.60" y2="476.20" stroke="#111" stroke-width="1.2" />
<text x="283.60" y="488.80" font-size="8.7" fill="#2c2c2c" text-anchor="middle" font-weight="normal" font-style="normal" >EV</text>
<line x1="103.85" y1="473.40" x2="103.85" y2="476.20" stroke="#111" stroke-width="1.2" />
<text x="103.85" y="487.80" font-size="8.7" fill="#2c2c2c" text-anchor="middle" font-weight="normal" font-style="normal" >Runx1</text>
<line x1="319.35" y1="473.40" x2="319.35" y2="476.20" stroke="#111" stroke-width="1.2" />
<text x="319.35" y="488.80" font-size="8.7" fill="#2c2c2c" text-anchor="middle" font-weight="normal" font-style="normal" >Runx1</text>
<line x1="139.60" y1="473.40" x2="139.60" y2="476.20" stroke="#111" stroke-width="1.2" />
<text x="139.60" y="487.80" font-size="8.7" fill="#2c2c2c" text-anchor="middle" font-weight="normal" font-style="normal" >Pbx1</text>
<line x1="355.10" y1="473.40" x2="355.10" y2="476.20" stroke="#111" stroke-width="1.2" />
<text x="355.10" y="488.80" font-size="8.7" fill="#2c2c2c" text-anchor="middle" font-weight="normal" font-style="normal" >Pbx1</text>
<line x1="175.35" y1="473.40" x2="175.35" y2="476.20" stroke="#111" stroke-width="1.2" />
<text x="175.35" y="487.80" font-size="8.7" fill="#2c2c2c" text-anchor="middle" font-weight="normal" font-style="normal" >Meis1</text>
<line x1="390.85" y1="473.40" x2="390.85" y2="476.20" stroke="#111" stroke-width="1.2" />
<text x="390.85" y="488.80" font-size="8.7" fill="#2c2c2c" text-anchor="middle" font-weight="normal" font-style="normal" >Meis1</text>
<line x1="211.10" y1="473.40" x2="211.10" y2="476.20" stroke="#111" stroke-width="1.2" />
<text x="211.10" y="487.80" font-size="8.7" fill="#2c2c2c" text-anchor="middle" font-weight="normal" font-style="normal" >Bmi1</text>
<line x1="426.60" y1="473.40" x2="426.60" y2="476.20" stroke="#111" stroke-width="1.2" />
<text x="426.60" y="488.80" font-size="8.7" fill="#2c2c2c" text-anchor="middle" font-weight="normal" font-style="normal" >Bmi1</text>
<text x="140.70" y="502.00" font-size="9.4" fill="#25355f" text-anchor="middle" font-weight="bold" font-style="normal" textLength="15.0" lengthAdjust="spacingAndGlyphs" stroke="#25355f" stroke-width="0.25">WT</text>
<text x="342.20" y="503.70" font-size="10.2" fill="#961c42" text-anchor="middle" font-weight="bold" font-style="normal" textLength="46.6" lengthAdjust="spacingAndGlyphs" stroke="#961c42" stroke-width="0.25">JAK HOM</text>
<text x="0" y="0" font-size="11.0" fill="#2c2c2c" text-anchor="middle" textLength="29.6" lengthAdjust="spacingAndGlyphs" transform="translate(20.4,399.7) rotate(-90)">HCT (%)</text>
<circle cx="63.5" cy="334.2" r="3.45" fill="#111" stroke="#111" stroke-width="0.7"/>
<circle cx="63.5" cy="348.4" r="2.9" fill="#fff" stroke="#111" stroke-width="1.3"/>
<text x="71.60" y="337.60" font-size="8.6" fill="#2c2c2c" text-anchor="start" font-weight="normal" font-style="normal" textLength="59.5" lengthAdjust="spacingAndGlyphs" >&gt;1% chimerism</text>
<text x="71.60" y="351.40" font-size="8.6" fill="#2c2c2c" text-anchor="start" font-weight="normal" font-style="normal" textLength="59.5" lengthAdjust="spacingAndGlyphs" >&lt;1% chimerism</text>
<path d="M284.7,323.6 L284.7,320.6 L385.4,320.6 L385.4,323.6" fill="none" stroke="#111" stroke-width="1.5"/>
<path d="M284.7,331.4 L284.7,328.5 L429.3,328.5 L429.3,331.4" fill="none" stroke="#111" stroke-width="1.5"/>
<g stroke="#666" stroke-width="0.7"><line x1="330.2" y1="316.3" x2="333.8" y2="316.3"/><line x1="331.1" y1="314.7" x2="332.9" y2="317.90000000000003"/><line x1="332.9" y1="314.7" x2="331.1" y2="317.90000000000003"/></g>
<circle cx="332.0" cy="316.3" r="1.15" fill="#111"/>
<g stroke="#666" stroke-width="0.7"><line x1="402.09999999999997" y1="323.9" x2="405.7" y2="323.9"/><line x1="403.0" y1="322.29999999999995" x2="404.79999999999995" y2="325.5"/><line x1="404.79999999999995" y1="322.29999999999995" x2="403.0" y2="325.5"/></g>
<circle cx="403.9" cy="323.9" r="1.15" fill="#111"/>
<circle cx="67.9" cy="401.2" r="3.45" fill="#4a2870" stroke="#32184f" stroke-width="0.7"/>
<circle cx="67.9" cy="414.4" r="3.45" fill="#4a2870" stroke="#32184f" stroke-width="0.7"/>
<circle cx="60.6" cy="418.5" r="3.45" fill="#4a2870" stroke="#32184f" stroke-width="0.7"/>
<circle cx="67.9" cy="425.6" r="3.45" fill="#4a2870" stroke="#32184f" stroke-width="0.7"/>
<circle cx="75.6" cy="421.7" r="3.15" fill="#fff" stroke="#3a2a4e" stroke-width="1.3"/>
<circle cx="99.6" cy="408.7" r="3.15" fill="#fff" stroke="#78a965" stroke-width="1.3"/>
<circle cx="108.3" cy="405.4" r="3.15" fill="#fff" stroke="#78a965" stroke-width="1.3"/>
<circle cx="99.6" cy="428.5" r="3.15" fill="#fff" stroke="#78a965" stroke-width="1.3"/>
<circle cx="108.3" cy="433.8" r="3.45" fill="#58a441" stroke="#3e8a2c" stroke-width="0.7"/>
<circle cx="104.2" cy="447.1" r="3.15" fill="#fff" stroke="#78a965" stroke-width="1.3"/>
<circle cx="135.6" cy="406.7" r="3.15" fill="#fff" stroke="#8db4d6" stroke-width="1.3"/>
<circle cx="144.2" cy="412.1" r="3.15" fill="#fff" stroke="#8db4d6" stroke-width="1.3"/>
<circle cx="132.7" cy="423.7" r="3.15" fill="#fff" stroke="#8db4d6" stroke-width="1.3"/>
<circle cx="139.4" cy="430.8" r="3.15" fill="#fff" stroke="#8db4d6" stroke-width="1.3"/>
<circle cx="147.1" cy="426.5" r="3.45" fill="#6aa8df" stroke="#4f8cc2" stroke-width="0.7"/>
<circle cx="168.0" cy="402.7" r="3.45" fill="#ad0f38" stroke="#7e0826" stroke-width="0.7"/>
<circle cx="183.5" cy="400.9" r="3.45" fill="#ad0f38" stroke="#7e0826" stroke-width="0.7"/>
<circle cx="175.9" cy="409.6" r="3.45" fill="#ad0f38" stroke="#7e0826" stroke-width="0.7"/>
<circle cx="172.0" cy="430.9" r="3.45" fill="#ad0f38" stroke="#7e0826" stroke-width="0.7"/>
<circle cx="180.0" cy="429.7" r="3.45" fill="#ad0f38" stroke="#7e0826" stroke-width="0.7"/>
<circle cx="204.3" cy="406.2" r="3.15" fill="#fff" stroke="#c9a05a" stroke-width="1.3"/>
<circle cx="211.9" cy="409.6" r="3.15" fill="#fff" stroke="#c9a05a" stroke-width="1.3"/>
<circle cx="219.8" cy="403.2" r="3.45" fill="#e5960f" stroke="#c77c08" stroke-width="0.7"/>
<circle cx="207.3" cy="437.8" r="3.45" fill="#e5960f" stroke="#c77c08" stroke-width="0.7"/>
<circle cx="215.8" cy="433.4" r="3.45" fill="#e5960f" stroke="#c77c08" stroke-width="0.7"/>
<line x1="55.80" y1="416.30" x2="80.40" y2="416.30" stroke="#111" stroke-width="1.8" />
<line x1="92.30" y1="424.60" x2="115.80" y2="424.60" stroke="#111" stroke-width="1.8" />
<line x1="128.00" y1="420.20" x2="151.60" y2="420.20" stroke="#111" stroke-width="1.8" />
<line x1="164.60" y1="414.20" x2="187.70" y2="414.20" stroke="#111" stroke-width="1.8" />
<line x1="200.00" y1="418.40" x2="223.20" y2="418.40" stroke="#111" stroke-width="1.8" />
<circle cx="279.6" cy="413.8" r="3.45" fill="#4a2870" stroke="#32184f" stroke-width="0.7"/>
<circle cx="288.2" cy="415.0" r="3.15" fill="#fff" stroke="#3a2a4e" stroke-width="1.3"/>
<circle cx="279.6" cy="432.7" r="3.45" fill="#4a2870" stroke="#32184f" stroke-width="0.7"/>
<circle cx="288.2" cy="428.1" r="3.45" fill="#4a2870" stroke="#32184f" stroke-width="0.7"/>
<circle cx="319.6" cy="400.4" r="3.45" fill="#58a441" stroke="#3e8a2c" stroke-width="0.7"/>
<circle cx="315.0" cy="424.0" r="3.1" fill="#fff" stroke="#111" stroke-width="1.5"/>
<circle cx="324.2" cy="426.3" r="3.15" fill="#fff" stroke="#78a965" stroke-width="1.3"/>
<circle cx="315.0" cy="443.1" r="3.15" fill="#fff" stroke="#78a965" stroke-width="1.3"/>
<circle cx="324.2" cy="440.8" r="3.15" fill="#fff" stroke="#78a965" stroke-width="1.3"/>
<circle cx="355.4" cy="339.3" r="3.05" fill="#7ea4cc" stroke="#0f1a2c" stroke-width="1.6"/>
<circle cx="351.2" cy="413.1" r="3.15" fill="#fff" stroke="#8db4d6" stroke-width="1.3"/>
<circle cx="364.4" cy="420.7" r="3.45" fill="#6aa8df" stroke="#4f8cc2" stroke-width="0.7"/>
<circle cx="359.8" cy="429.7" r="3.15" fill="#fff" stroke="#8db4d6" stroke-width="1.3"/>
<circle cx="351.2" cy="432.7" r="3.05" fill="#7ea4cc" stroke="#0f1a2c" stroke-width="1.6"/>
<circle cx="383.6" cy="396.2" r="3.45" fill="#ad0f38" stroke="#7e0826" stroke-width="0.7"/>
<circle cx="398.8" cy="399.2" r="3.45" fill="#ad0f38" stroke="#7e0826" stroke-width="0.7"/>
<circle cx="391.2" cy="404.3" r="3.45" fill="#ad0f38" stroke="#7e0826" stroke-width="0.7"/>
<circle cx="391.2" cy="414.7" r="3.45" fill="#ad0f38" stroke="#7e0826" stroke-width="0.7"/>
<circle cx="391.2" cy="437.1" r="3.15" fill="#fff" stroke="#a33a55" stroke-width="1.3"/>
<circle cx="427.5" cy="368.0" r="3.45" fill="#e5960f" stroke="#c77c08" stroke-width="0.7"/>
<circle cx="418.2" cy="404.7" r="3.45" fill="#e5960f" stroke="#c77c08" stroke-width="0.7"/>
<circle cx="424.2" cy="409.6" r="3.45" fill="#e5960f" stroke="#c77c08" stroke-width="0.7"/>
<circle cx="430.5" cy="407.7" r="3.45" fill="#e5960f" stroke="#c77c08" stroke-width="0.7"/>
<circle cx="436.2" cy="404.7" r="3.05" fill="#d6a24c" stroke="#2a1606" stroke-width="1.6"/>
<line x1="272.00" y1="422.80" x2="295.80" y2="422.80" stroke="#111" stroke-width="1.8" />
<line x1="307.30" y1="427.00" x2="331.60" y2="427.00" stroke="#111" stroke-width="1.8" />
<line x1="344.30" y1="406.90" x2="367.90" y2="406.90" stroke="#111" stroke-width="1.8" />
<line x1="379.20" y1="410.00" x2="403.40" y2="410.00" stroke="#111" stroke-width="1.8" />
<line x1="415.50" y1="399.00" x2="439.00" y2="399.00" stroke="#111" stroke-width="1.8" />
<line x1="49.60" y1="533.40" x2="49.60" y2="671.00" stroke="#111" stroke-width="1.6" />
<polyline points="49.6,671.0 61.2,673.9 42.3,676.2 49.6,678.2" fill="none" stroke="#111" stroke-width="1.5" stroke-linejoin="miter"/>
<line x1="49.60" y1="678.20" x2="49.60" y2="707.50" stroke="#111" stroke-width="1.6" />
<line x1="49.60" y1="681.00" x2="446.30" y2="681.00" stroke="#111" stroke-width="1.6" />
<line x1="247.00" y1="681.00" x2="247.00" y2="707.50" stroke="#111" stroke-width="1.6" />
<line x1="445.50" y1="680.20" x2="445.50" y2="707.50" stroke="#111" stroke-width="1.6" />
<line x1="46.00" y1="536.40" x2="49.60" y2="536.40" stroke="#111" stroke-width="1.2" />
<text x="42.60" y="539.50" font-size="8.9" fill="#2c2c2c" text-anchor="end" font-weight="normal" font-style="normal" >25</text>
<line x1="46.00" y1="579.00" x2="49.60" y2="579.00" stroke="#111" stroke-width="1.2" />
<text x="42.60" y="582.10" font-size="8.9" fill="#2c2c2c" text-anchor="end" font-weight="normal" font-style="normal" >20</text>
<line x1="46.00" y1="622.50" x2="49.60" y2="622.50" stroke="#111" stroke-width="1.2" />
<text x="42.60" y="625.60" font-size="8.9" fill="#2c2c2c" text-anchor="end" font-weight="normal" font-style="normal" >15</text>
<line x1="46.00" y1="664.20" x2="49.60" y2="664.20" stroke="#111" stroke-width="1.2" />
<text x="42.60" y="667.30" font-size="8.9" fill="#2c2c2c" text-anchor="end" font-weight="normal" font-style="normal" >10</text>
<line x1="55.4" y1="622.2" x2="444.0" y2="622.2" stroke="#111" stroke-width="1.5" stroke-dasharray="3.6,3.59"/>
<line x1="68.10" y1="681.00" x2="68.10" y2="683.80" stroke="#111" stroke-width="1.2" />
<text x="68.10" y="695.80" font-size="8.7" fill="#2c2c2c" text-anchor="middle" font-weight="normal" font-style="normal" >EV</text>
<line x1="283.60" y1="681.00" x2="283.60" y2="683.80" stroke="#111" stroke-width="1.2" />
<text x="283.60" y="696.80" font-size="8.7" fill="#2c2c2c" text-anchor="middle" font-weight="normal" font-style="normal" >EV</text>
<line x1="103.85" y1="681.00" x2="103.85" y2="683.80" stroke="#111" stroke-width="1.2" />
<text x="103.85" y="695.80" font-size="8.7" fill="#2c2c2c" text-anchor="middle" font-weight="normal" font-style="normal" >Runx1</text>
<line x1="319.35" y1="681.00" x2="319.35" y2="683.80" stroke="#111" stroke-width="1.2" />
<text x="319.35" y="696.80" font-size="8.7" fill="#2c2c2c" text-anchor="middle" font-weight="normal" font-style="normal" >Runx1</text>
<line x1="139.60" y1="681.00" x2="139.60" y2="683.80" stroke="#111" stroke-width="1.2" />
<text x="139.60" y="695.80" font-size="8.7" fill="#2c2c2c" text-anchor="middle" font-weight="normal" font-style="normal" >Pbx1</text>
<line x1="355.10" y1="681.00" x2="355.10" y2="683.80" stroke="#111" stroke-width="1.2" />
<text x="355.10" y="696.80" font-size="8.7" fill="#2c2c2c" text-anchor="middle" font-weight="normal" font-style="normal" >Pbx1</text>
<line x1="175.35" y1="681.00" x2="175.35" y2="683.80" stroke="#111" stroke-width="1.2" />
<text x="175.35" y="695.80" font-size="8.7" fill="#2c2c2c" text-anchor="middle" font-weight="normal" font-style="normal" >Meis1</text>
<line x1="390.85" y1="681.00" x2="390.85" y2="683.80" stroke="#111" stroke-width="1.2" />
<text x="390.85" y="696.80" font-size="8.7" fill="#2c2c2c" text-anchor="middle" font-weight="normal" font-style="normal" >Meis1</text>
<line x1="211.10" y1="681.00" x2="211.10" y2="683.80" stroke="#111" stroke-width="1.2" />
<text x="211.10" y="695.80" font-size="8.7" fill="#2c2c2c" text-anchor="middle" font-weight="normal" font-style="normal" >Bmi1</text>
<line x1="426.60" y1="681.00" x2="426.60" y2="683.80" stroke="#111" stroke-width="1.2" />
<text x="426.60" y="696.80" font-size="8.7" fill="#2c2c2c" text-anchor="middle" font-weight="normal" font-style="normal" >Bmi1</text>
<text x="140.50" y="708.70" font-size="9.4" fill="#25355f" text-anchor="middle" font-weight="bold" font-style="normal" textLength="15.0" lengthAdjust="spacingAndGlyphs" stroke="#25355f" stroke-width="0.25">WT</text>
<text x="357.40" y="710.40" font-size="10.2" fill="#961c42" text-anchor="middle" font-weight="bold" font-style="normal" textLength="46.6" lengthAdjust="spacingAndGlyphs" stroke="#961c42" stroke-width="0.25">JAK HOM</text>
<text x="0" y="0" font-size="10.8" fill="#2c2c2c" text-anchor="middle" textLength="42.0" lengthAdjust="spacingAndGlyphs" transform="translate(22.0,601.3) rotate(-90)">HGB (g/dL)</text>
<path d="M291.7,533.2 L291.7,530.5 L393.0,530.5 L393.0,533.2" fill="none" stroke="#111" stroke-width="1.5"/>
<g stroke="#666" stroke-width="0.7"><line x1="340.7" y1="525.6" x2="344.3" y2="525.6"/><line x1="341.6" y1="524.0" x2="343.4" y2="527.2"/><line x1="343.4" y1="524.0" x2="341.6" y2="527.2"/></g>
<circle cx="342.5" cy="525.6" r="1.15" fill="#111"/>
<circle cx="60.4" cy="615.6" r="3.45" fill="#4a2870" stroke="#32184f" stroke-width="0.7"/>
<circle cx="65.0" cy="620.7" r="3.15" fill="#fff" stroke="#3a2a4e" stroke-width="1.3"/>
<circle cx="67.9" cy="625.0" r="3.45" fill="#4a2870" stroke="#32184f" stroke-width="0.7"/>
<circle cx="72.7" cy="624.3" r="3.45" fill="#4a2870" stroke="#32184f" stroke-width="0.7"/>
<circle cx="76.0" cy="619.4" r="3.45" fill="#4a2870" stroke="#32184f" stroke-width="0.7"/>
<circle cx="99.6" cy="618.5" r="3.15" fill="#fff" stroke="#78a965" stroke-width="1.3"/>
<circle cx="108.3" cy="614.0" r="3.15" fill="#fff" stroke="#78a965" stroke-width="1.3"/>
<circle cx="104.2" cy="630.0" r="3.45" fill="#58a441" stroke="#3e8a2c" stroke-width="0.7"/>
<circle cx="108.3" cy="634.8" r="3.15" fill="#fff" stroke="#78a965" stroke-width="1.3"/>
<circle cx="99.6" cy="641.9" r="3.15" fill="#fff" stroke="#78a965" stroke-width="1.3"/>
<circle cx="131.5" cy="621.6" r="3.15" fill="#fff" stroke="#8db4d6" stroke-width="1.3"/>
<circle cx="140.3" cy="623.5" r="3.45" fill="#6aa8df" stroke="#4f8cc2" stroke-width="0.7"/>
<circle cx="147.3" cy="617.0" r="3.15" fill="#fff" stroke="#8db4d6" stroke-width="1.3"/>
<circle cx="144.2" cy="628.8" r="3.15" fill="#fff" stroke="#8db4d6" stroke-width="1.3"/>
<circle cx="135.5" cy="633.4" r="3.15" fill="#fff" stroke="#8db4d6" stroke-width="1.3"/>
<circle cx="171.3" cy="606.6" r="3.45" fill="#ad0f38" stroke="#7e0826" stroke-width="0.7"/>
<circle cx="179.6" cy="608.9" r="3.45" fill="#ad0f38" stroke="#7e0826" stroke-width="0.7"/>
<circle cx="167.8" cy="624.6" r="3.45" fill="#ad0f38" stroke="#7e0826" stroke-width="0.7"/>
<circle cx="175.4" cy="630.4" r="3.45" fill="#ad0f38" stroke="#7e0826" stroke-width="0.7"/>
<circle cx="183.0" cy="627.6" r="3.45" fill="#ad0f38" stroke="#7e0826" stroke-width="0.7"/>
<circle cx="211.9" cy="603.2" r="3.45" fill="#e5960f" stroke="#c77c08" stroke-width="0.7"/>
<circle cx="207.1" cy="613.8" r="3.15" fill="#fff" stroke="#c9a05a" stroke-width="1.3"/>
<circle cx="219.8" cy="619.3" r="3.15" fill="#fff" stroke="#c9a05a" stroke-width="1.3"/>
<circle cx="215.8" cy="627.0" r="3.45" fill="#e5960f" stroke="#c77c08" stroke-width="0.7"/>
<circle cx="207.3" cy="633.4" r="3.45" fill="#e5960f" stroke="#c77c08" stroke-width="0.7"/>
<circle cx="283.1" cy="600.4" r="3.15" fill="#fff" stroke="#3a2a4e" stroke-width="1.3"/>
<circle cx="283.1" cy="612.0" r="3.45" fill="#4a2870" stroke="#32184f" stroke-width="0.7"/>
<circle cx="283.1" cy="640.9" r="3.45" fill="#4a2870" stroke="#32184f" stroke-width="0.7"/>
<circle cx="283.1" cy="649.6" r="3.45" fill="#4a2870" stroke="#32184f" stroke-width="0.7"/>
<circle cx="318.9" cy="613.1" r="3.45" fill="#58a441" stroke="#3e8a2c" stroke-width="0.7"/>
<circle cx="318.9" cy="622.8" r="3.1" fill="#fff" stroke="#111" stroke-width="1.5"/>
<circle cx="311.3" cy="635.8" r="3.15" fill="#fff" stroke="#78a965" stroke-width="1.3"/>
<circle cx="318.9" cy="635.8" r="3.15" fill="#fff" stroke="#78a965" stroke-width="1.3"/>
<circle cx="326.5" cy="635.8" r="3.15" fill="#fff" stroke="#78a965" stroke-width="1.3"/>
<circle cx="354.7" cy="544.3" r="3.05" fill="#7ea4cc" stroke="#0f1a2c" stroke-width="1.6"/>
<circle cx="350.5" cy="622.4" r="3.15" fill="#fff" stroke="#8db4d6" stroke-width="1.3"/>
<circle cx="358.8" cy="621.7" r="3.45" fill="#6aa8df" stroke="#4f8cc2" stroke-width="0.7"/>
<circle cx="354.7" cy="635.1" r="3.15" fill="#fff" stroke="#8db4d6" stroke-width="1.3"/>
<circle cx="354.7" cy="645.5" r="3.05" fill="#7ea4cc" stroke="#0f1a2c" stroke-width="1.6"/>
<circle cx="390.4" cy="578.8" r="3.45" fill="#ad0f38" stroke="#7e0826" stroke-width="0.7"/>
<circle cx="390.4" cy="599.4" r="3.45" fill="#ad0f38" stroke="#7e0826" stroke-width="0.7"/>
<circle cx="386.3" cy="613.5" r="3.45" fill="#ad0f38" stroke="#7e0826" stroke-width="0.7"/>
<circle cx="394.6" cy="621.2" r="3.45" fill="#ad0f38" stroke="#7e0826" stroke-width="0.7"/>
<circle cx="390.4" cy="638.1" r="3.15" fill="#fff" stroke="#a33a55" stroke-width="1.3"/>
<circle cx="426.3" cy="561.9" r="3.45" fill="#e5960f" stroke="#c77c08" stroke-width="0.7"/>
<circle cx="426.3" cy="595.6" r="3.05" fill="#d6a24c" stroke="#2a1606" stroke-width="1.6"/>
<circle cx="418.3" cy="615.4" r="3.45" fill="#e5960f" stroke="#c77c08" stroke-width="0.7"/>
<circle cx="426.3" cy="619.6" r="3.45" fill="#e5960f" stroke="#c77c08" stroke-width="0.7"/>
<circle cx="434.0" cy="618.7" r="3.45" fill="#e5960f" stroke="#c77c08" stroke-width="0.7"/>
<line x1="56.30" y1="622.00" x2="80.40" y2="622.00" stroke="#111" stroke-width="1.8" />
<line x1="92.30" y1="628.00" x2="116.00" y2="628.00" stroke="#111" stroke-width="1.8" />
<line x1="128.00" y1="624.60" x2="151.50" y2="624.60" stroke="#111" stroke-width="1.8" />
<line x1="164.50" y1="619.60" x2="187.50" y2="619.60" stroke="#111" stroke-width="1.8" />
<line x1="200.00" y1="619.60" x2="223.00" y2="619.60" stroke="#111" stroke-width="1.8" />
<line x1="271.00" y1="625.80" x2="295.50" y2="625.80" stroke="#111" stroke-width="1.8" />
<line x1="307.00" y1="628.80" x2="331.00" y2="628.80" stroke="#111" stroke-width="1.8" />
<line x1="343.00" y1="613.60" x2="367.00" y2="613.60" stroke="#111" stroke-width="1.8" />
<line x1="378.70" y1="610.00" x2="402.30" y2="610.00" stroke="#111" stroke-width="1.8" />
<line x1="414.80" y1="602.30" x2="438.50" y2="602.30" stroke="#111" stroke-width="1.8" />
</svg>
</body></html>
